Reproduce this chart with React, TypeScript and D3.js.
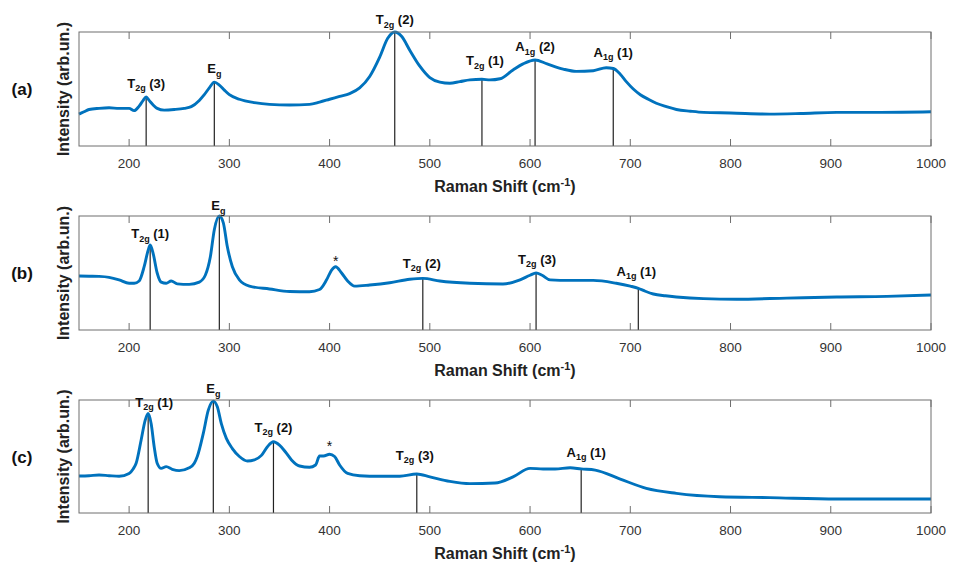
import React from 'react';
import * as d3 from 'd3';

const xTicks = [200, 300, 400, 500, 600, 700, 800, 900, 1000];
const panelLetters = ['(a)', '(b)', '(c)'];
const xTitle = 'Raman Shift (cm';
const yTitle = 'Intensity (arb.un.)';

const spectrumA: [number, number][] = [
  [150, 0.28], [155, 0.3], [160, 0.32], [170, 0.33], [180, 0.335], [190, 0.33], [200, 0.33], [205, 0.31],
  [210, 0.35], [214, 0.4], [217, 0.43], [220, 0.4], [224, 0.36], [228, 0.33], [235, 0.315], [245, 0.32],
  [255, 0.33], [262, 0.345], [270, 0.4], [275, 0.45], [280, 0.51], [285, 0.56], [290, 0.535], [295, 0.49],
  [300, 0.45], [310, 0.41], [325, 0.38], [340, 0.365], [360, 0.36], [380, 0.365], [390, 0.385], [400, 0.41],
  [410, 0.435], [420, 0.46], [430, 0.51], [440, 0.61], [450, 0.78], [458, 0.945], [465, 1.0], [472, 0.96],
  [480, 0.84], [490, 0.7], [500, 0.6], [510, 0.56], [520, 0.55], [530, 0.565], [540, 0.58], [552, 0.585],
  [560, 0.58], [570, 0.59], [583, 0.667], [593, 0.72], [605, 0.755], [617, 0.72], [633, 0.675], [646, 0.655],
  [663, 0.66], [676, 0.687], [683, 0.68], [690, 0.63], [696, 0.565], [703, 0.5], [710, 0.45], [718, 0.41],
  [726, 0.375], [736, 0.345], [746, 0.32], [760, 0.305], [773, 0.295], [800, 0.29], [839, 0.28], [870, 0.285],
  [906, 0.295], [950, 0.295], [1000, 0.3],
];

const spectrumB: [number, number][] = [
  [150, 0.474], [160, 0.472], [170, 0.47], [180, 0.462], [190, 0.44], [200, 0.41], [205, 0.41],
  [210, 0.43], [215, 0.555], [219, 0.7], [221, 0.745], [224, 0.67], [228, 0.5], [232, 0.42], [237, 0.41],
  [242, 0.43], [248, 0.405], [260, 0.4], [270, 0.42], [276, 0.48], [281, 0.64], [285, 0.88], [290, 1.0],
  [294, 0.94], [298, 0.73], [303, 0.555], [310, 0.44], [320, 0.385], [340, 0.36], [360, 0.338], [380, 0.336],
  [390, 0.355], [397, 0.44], [402, 0.526], [406, 0.555], [412, 0.5], [418, 0.43], [425, 0.385], [440, 0.395],
  [460, 0.415], [480, 0.445], [493, 0.453], [510, 0.43], [540, 0.41], [573, 0.403], [590, 0.44], [600, 0.48],
  [606, 0.5], [612, 0.48], [620, 0.44], [640, 0.435], [663, 0.435], [686, 0.41], [700, 0.385], [708, 0.366],
  [715, 0.34], [723, 0.316], [735, 0.3], [746, 0.29], [773, 0.275], [806, 0.27], [856, 0.28], [906, 0.29],
  [956, 0.295], [1000, 0.307],
];

const spectrumC: [number, number][] = [
  [150, 0.327], [160, 0.33], [170, 0.336], [180, 0.33], [190, 0.325], [200, 0.35], [204, 0.39], [207, 0.44],
  [212, 0.646], [216, 0.82], [219, 0.88], [222, 0.79], [225, 0.587], [228, 0.44], [232, 0.395], [237, 0.41],
  [243, 0.387], [250, 0.375], [260, 0.4], [265, 0.44], [268, 0.5], [274, 0.705], [279, 0.91], [284, 0.99],
  [288, 0.94], [292, 0.79], [297, 0.66], [303, 0.57], [310, 0.5], [318, 0.46], [325, 0.47], [332, 0.51],
  [338, 0.587], [344, 0.63], [350, 0.6], [356, 0.54], [362, 0.47], [370, 0.416], [380, 0.405], [386, 0.425],
  [390, 0.504], [394, 0.504], [400, 0.52], [405, 0.5], [410, 0.425], [418, 0.35], [430, 0.33], [450, 0.325],
  [470, 0.325], [487, 0.345], [500, 0.32], [520, 0.28], [540, 0.26], [565, 0.265], [583, 0.32], [600, 0.395],
  [613, 0.39], [625, 0.39], [640, 0.4], [651, 0.39], [665, 0.38], [690, 0.3], [716, 0.218], [746, 0.174],
  [789, 0.144], [839, 0.136], [906, 0.124], [1000, 0.124],
];

type Ann = { main: string; sub: string; tail: string; x: number; lx: number; ly: number; line: boolean };

const peaksA: Ann[] = [
  { main: 'T', sub: '2g', tail: ' (3)', x: 217, lx: 217, ly: 0.51, line: true },
  { main: 'E', sub: 'g', tail: '', x: 285, lx: 285, ly: 0.64, line: true },
  { main: 'T', sub: '2g', tail: ' (2)', x: 465, lx: 465, ly: 1.07, line: true },
  { main: 'T', sub: '2g', tail: ' (1)', x: 552, lx: 555, ly: 0.71, line: true },
  { main: 'A', sub: '1g', tail: ' (2)', x: 605, lx: 605, ly: 0.83, line: true },
  { main: 'A', sub: '1g', tail: ' (1)', x: 683, lx: 683, ly: 0.785, line: true },
];
const peaksB: Ann[] = [
  { main: 'T', sub: '2g', tail: ' (1)', x: 221, lx: 221, ly: 0.807, line: true },
  { main: 'E', sub: 'g', tail: '', x: 290, lx: 289, ly: 1.05, line: true },
  { main: '*', sub: '', tail: '', x: 406, lx: 406, ly: 0.56, line: false },
  { main: 'T', sub: '2g', tail: ' (2)', x: 493, lx: 492, ly: 0.544, line: true },
  { main: 'T', sub: '2g', tail: ' (3)', x: 606, lx: 607, ly: 0.58, line: true },
  { main: 'A', sub: '1g', tail: ' (1)', x: 708, lx: 706, ly: 0.474, line: true },
];
const peaksC: Ann[] = [
  { main: 'T', sub: '2g', tail: ' (1)', x: 219, lx: 225, ly: 0.94, line: true },
  { main: 'E', sub: 'g', tail: '', x: 284, lx: 284, ly: 1.06, line: true },
  { main: 'T', sub: '2g', tail: ' (2)', x: 344, lx: 344, ly: 0.717, line: true },
  { main: '*', sub: '', tail: '', x: 400, lx: 400, ly: 0.545, line: false },
  { main: 'T', sub: '2g', tail: ' (3)', x: 487, lx: 485, ly: 0.47, line: true },
  { main: 'A', sub: '1g', tail: ' (1)', x: 651, lx: 656, ly: 0.496, line: true },
];

const W = 953;
const H = 572;
const left = 79;
const right = 931;
const panels = [
  { top: 32, bottom: 146, data: spectrumA, peaks: peaksA },
  { top: 216, bottom: 330, data: spectrumB, peaks: peaksB },
  { top: 400, bottom: 513, data: spectrumC, peaks: peaksC },
];

const FONT = "'Liberation Sans', Arial, sans-serif";

function valueAt(data: [number, number][], x: number) {
  const i = d3.bisector((d: [number, number]) => d[0]).left(data, x);
  if (i <= 0) return data[0][1];
  if (i >= data.length) return data[data.length - 1][1];
  const a = data[i - 1];
  const b = data[i];
  const t = (x - a[0]) / (b[0] - a[0]);
  return a[1] + t * (b[1] - a[1]);
}

export default function App() {
  const x = d3.scaleLinear().domain([150, 1000]).range([left, right]);
  return (
    <svg width={W} height={H} style={{ position: 'absolute', left: 0, top: 0, background: '#fff' }}>
      <rect width={W} height={H} fill="#fff" />
      {panels.map((p, pi) => {
        const y = d3.scaleLinear().domain([0, 1]).range([p.bottom, p.top]);
        const line = d3
          .line<[number, number]>()
          .x((d) => x(d[0]))
          .y((d) => y(d[1]))
          .curve(d3.curveMonotoneX);
        const midY = (p.top + p.bottom) / 2;
        return (
          <g key={pi}>
            {p.peaks.filter((a) => a.line).map((a, i) => (
              <line key={'m' + i} x1={x(a.x)} x2={x(a.x)} y1={y(valueAt(p.data, a.x))} y2={p.bottom} stroke="#222" strokeWidth={1.2} />
            ))}
            <path d={line(p.data) || ''} fill="none" stroke="#0072BD" strokeWidth={2.9} strokeLinejoin="round" />
            <rect x={left} y={p.top} width={right - left} height={p.bottom - p.top} fill="none" stroke="#6e6e6e" strokeWidth={1} />
            {xTicks.map((t) => (
              <g key={'t' + t}>
                <line x1={x(t)} x2={x(t)} y1={p.bottom} y2={p.bottom - 7} stroke="#6e6e6e" strokeWidth={1} />
                <line x1={x(t)} x2={x(t)} y1={p.top} y2={p.top + 7} stroke="#6e6e6e" strokeWidth={1} />
                <text x={x(t)} y={p.bottom + 22} textAnchor="middle" fontFamily={FONT} fontSize={13.5} fill="#333">
                  {t}
                </text>
              </g>
            ))}
            {p.peaks.map((a, i) => (
              <text key={'l' + i} x={x(a.lx)} y={y(a.ly)} textAnchor="middle" fontFamily={FONT}
                fontWeight={a.main === '*' ? 'normal' : 'bold'} fontSize={a.main === '*' ? 14 : 13} fill="#111">
                <tspan>{a.main}</tspan>
                {a.sub ? (
                  <tspan fontSize={9} dy={3.5}>{a.sub}</tspan>
                ) : null}
                {a.tail ? <tspan dy={-3.5}>{a.tail}</tspan> : null}
              </text>
            ))}
            <text x={505} y={p.bottom + 46} textAnchor="middle" fontFamily={FONT} fontWeight="bold" fontSize={16} fill="#222">
              <tspan>{xTitle}</tspan>
              <tspan fontSize={11} dy={-6}>-1</tspan>
              <tspan dy={6}>)</tspan>
            </text>
            <text transform={`translate(${69},${midY}) rotate(-90)`} textAnchor="middle" fontFamily={FONT} fontWeight="bold" fontSize={16} fill="#222">
              {yTitle}
            </text>
            <text x={22} y={midY + 6} textAnchor="middle" fontFamily={FONT} fontWeight="bold" fontSize={17} fill="#111">
              {panelLetters[pi]}
            </text>
          </g>
        );
      })}
    </svg>
  );
}
